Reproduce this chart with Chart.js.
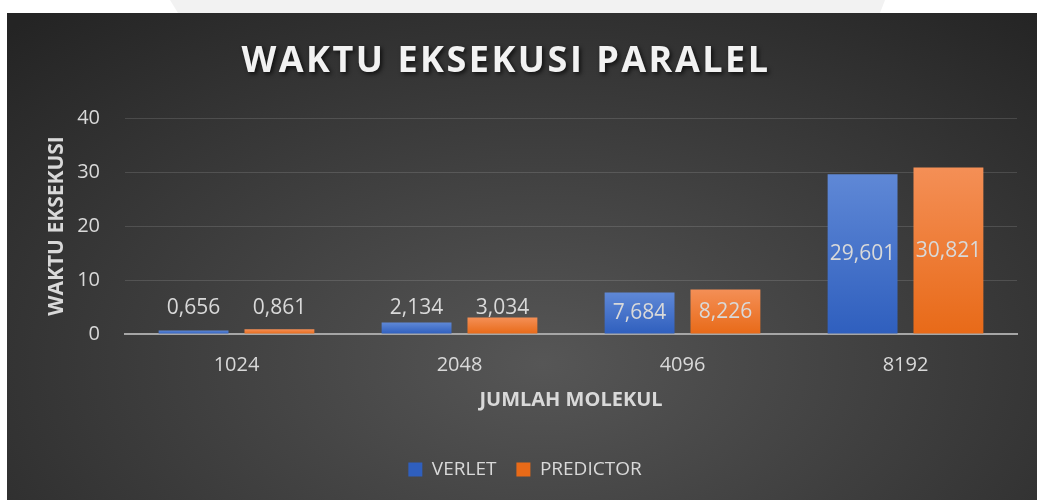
<!DOCTYPE html>
<html>
<head>
<meta charset="utf-8">
<script src="https://cdn.jsdelivr.net/npm/chart.js@4.4.0/dist/chart.umd.min.js"></script>
<style>
  body { margin: 0; background: #fff; width: 1037px; height: 500px; position: relative; overflow: hidden; }
  #shade { position: absolute; left: 0; top: 0; width: 1037px; height: 13px; background: #f2f2f2;
    clip-path: polygon(170px 0, 885px 0, 880px 13px, 178px 13px); }
  #panel { position: absolute; left: 7px; top: 13px; width: 1030px; height: 487px;
    background: radial-gradient(ellipse 75% 95% at 52% 72%, #565656 0%, #3d3d3d 50%, #242424 100%); }
</style>
</head>
<body>
<div id="shade"></div>
<div id="panel"><canvas id="myChart" width="1030" height="487"></canvas></div>
<script>
const chartTitle = "WAKTU EKSEKUSI PARALEL";
const categories = ["1024", "2048", "4096", "8192"];
const seriesNames = ["VERLET", "PREDICTOR"];
const verlet = [0.656, 2.134, 7.684, 29.601];
const predictor = [0.861, 3.034, 8.226, 30.821];
const yTicks = [0, 10, 20, 30, 40];

const textColor = "#d9d9d9";
const font = "'Open Sans', sans-serif";

// gradient colours top -> bottom for each series
const barColors = [
  ["#5f88d6", "#2f5fbe"],
  ["#f48f56", "#e86a18"],
];

// format number like excel with comma decimal
const fmt = (v) => v.toFixed(3).replace(".", ",");

// gradient fill for each bar, from its top to the zero line
function barFill(context) {
  const chart = context.chart;
  const colors = barColors[context.datasetIndex];
  const yScale = chart.scales.y;
  if (!chart.chartArea || !yScale || context.type !== "data") return colors[1];
  const v = context.raw;
  const top = yScale.getPixelForValue(v);
  const base = yScale.getPixelForValue(0);
  const g = chart.ctx.createLinearGradient(0, top, 0, base);
  g.addColorStop(0, colors[0]);
  g.addColorStop(1, colors[1]);
  return g;
}

// value labels, inside the bar when it is tall enough, above otherwise
const valueLabels = {
  id: "valueLabels",
  afterDatasetsDraw(chart) {
    const ctx = chart.ctx;
    ctx.save();
    ctx.font = "21px " + font;
    ctx.fillStyle = textColor;
    ctx.textAlign = "center";
    ctx.textBaseline = "middle";
    chart.data.datasets.forEach((ds, i) => {
      chart.getDatasetMeta(i).data.forEach((bar, j) => {
        let y;
        if (bar.base - bar.y > 30) {
          y = (bar.y + bar.base) / 2;
        } else {
          y = Math.min(bar.y - 8, bar.base - 25);
        }
        ctx.fillText(fmt(ds.data[j]), bar.x, y);
      });
    });
    ctx.restore();
  },
};

// big spaced title with a shadow
const bigTitle = {
  id: "bigTitle",
  afterDraw(chart) {
    const ctx = chart.ctx;
    ctx.save();
    ctx.font = "bold 36px " + font;
    ctx.letterSpacing = "2.5px";
    ctx.fillStyle = "#f2f2f2";
    ctx.textAlign = "center";
    ctx.textBaseline = "middle";
    ctx.shadowColor = "rgba(0,0,0,0.7)";
    ctx.shadowBlur = 4;
    ctx.shadowOffsetX = 2;
    ctx.shadowOffsetY = 2;
    ctx.fillText(chartTitle, 499, 49);
    ctx.restore();
  },
};

const data = {
  labels: categories,
  datasets: [
    { label: seriesNames[0], data: verlet, backgroundColor: barFill },
    { label: seriesNames[1], data: predictor, backgroundColor: barFill },
  ],
};

const config = {
  type: "bar",
  data,
  plugins: [valueLabels, bigTitle],
  options: {
    responsive: false,
    animation: false,
    devicePixelRatio: 1,
    categoryPercentage: 0.77,
    barPercentage: 0.814,
    layout: { padding: { top: 105, right: 20, left: 26, bottom: 11 } },
    plugins: {
      tooltip: { enabled: false },
      legend: {
        position: "bottom",
        labels: {
          color: textColor,
          font: { family: font, size: 19 },
          boxWidth: 14,
          boxHeight: 14,
          padding: 20,
          generateLabels: (chart) =>
            seriesNames.map((name, i) => ({
              text: name,
              fillStyle: barColors[i][1],
              strokeStyle: barColors[i][1],
              lineWidth: 0,
              fontColor: textColor,
              datasetIndex: i,
            })),
        },
      },
    },
    scales: {
      x: {
        afterFit(scale) {
          scale.height = 106;
        },
        grid: { display: false, drawTicks: false },
        border: { display: true, color: "#a6a6a6", width: 2 },
        ticks: { color: textColor, font: { family: font, size: 20 }, padding: 19 },
        title: {
          display: true,
          text: "JUMLAH MOLEKUL",
          color: textColor,
          font: { family: font, size: 20, weight: "bold" },
          padding: { top: 0, bottom: 28 },
        },
      },
      y: {
        min: 0,
        max: 40,
        afterFit(scale) {
          scale.width = 92;
        },
        afterBuildTicks(scale) {
          scale.ticks = yTicks.map((v) => ({ value: v }));
        },
        grid: {
          drawTicks: false,
          color: (c) => (c.tick && c.tick.value === 0 ? "rgba(0,0,0,0)" : "rgba(255,255,255,0.13)"),
          lineWidth: 1,
        },
        border: { display: false },
        ticks: { color: textColor, font: { family: font, size: 20 }, padding: 25 },
        title: {
          display: true,
          text: "WAKTU EKSEKUSI",
          color: textColor,
          font: { family: font, size: 21, weight: "bold" },
          padding: { top: 11, bottom: 0 },
        },
      },
    },
  },
};

const myChart = new Chart(document.getElementById("myChart"), config);
</script>
</body>
</html>
